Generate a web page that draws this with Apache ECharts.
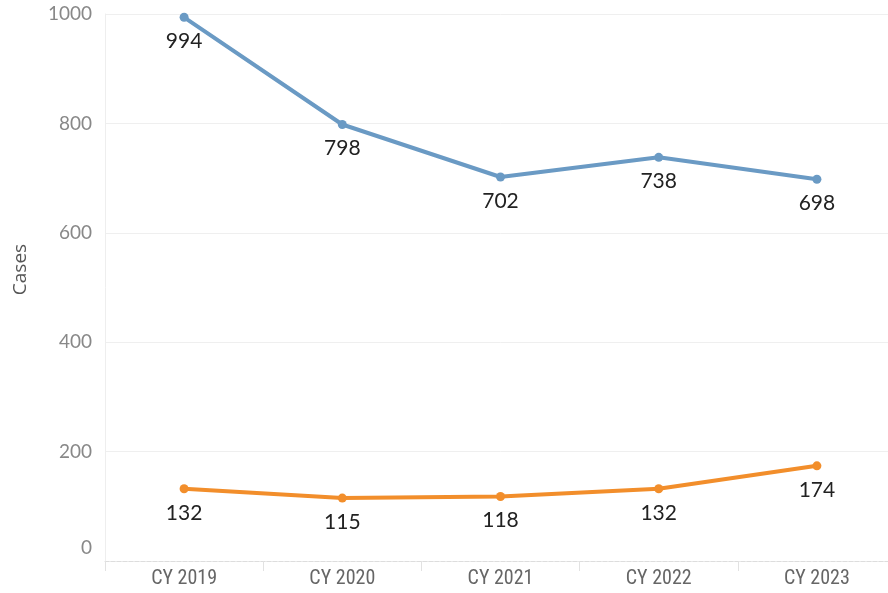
<!DOCTYPE html>
<html>
<head>
<meta charset="utf-8">
<script src="https://cdn.jsdelivr.net/npm/echarts@6/dist/echarts.min.js"></script>
<style>html,body{margin:0;padding:0;background:#fff;overflow:hidden;}#c{width:896px;height:593px;}</style>
</head>
<body>
<div id="c"></div>
<script>
const categories = ['CY 2019', 'CY 2020', 'CY 2021', 'CY 2022', 'CY 2023'];
const seriesA = [994, 798, 702, 738, 698];
const seriesB = [132, 115, 118, 132, 174];
const yTicks = { min: 0, max: 1000, interval: 200 };

const chart = echarts.init(document.getElementById('c'));
const labelFont = 'Lato, "Noto Sans", sans-serif';
function mkSeries(name, data, color) {
  return {
    name: name, type: 'line', data: data,
    symbol: 'circle', symbolSize: 9,
    lineStyle: { width: 4, color: color },
    itemStyle: { color: color },
    label: { show: true, position: 'bottom', distance: 9, color: '#222', fontSize: 21, fontFamily: labelFont },
    emphasis: { disabled: true },
    animation: false
  };
}
chart.setOption({
  animation: false,
  grid: { left: 105, top: 14, right: 0, bottom: 32, containLabel: false },
  xAxis: {
    type: 'category', data: categories, boundaryGap: true,
    axisLine: { show: true, lineStyle: { color: '#dddddd', type: 'dashed', width: 1 } },
    axisTick: { show: true, length: 10, lineStyle: { color: '#e2e2e2' } },
    axisLabel: { color: '#666', fontSize: 20, fontFamily: '"Liberation Sans Narrow", "Roboto Condensed", Roboto, sans-serif', margin: 8 },
    splitLine: { show: false }
  },
  yAxis: {
    type: 'value', min: yTicks.min, max: yTicks.max, interval: yTicks.interval,
    name: 'Cases', nameLocation: 'middle', nameGap: 75, nameRotate: 90,
    nameTextStyle: { color: '#555', fontSize: 19, fontFamily: '"Open Sans", "Noto Sans", sans-serif', padding: [0, 0, 0, 36] },
    axisLine: { show: true, lineStyle: { color: '#eeeeee' } },
    axisTick: { show: false },
    axisLabel: {
      color: '#888', fontSize: 19, fontFamily: labelFont, margin: 13,
      formatter: function (v) { return v === 0 ? '{z|0}' : String(v); },
      rich: { z: { color: '#888', fontSize: 19, fontFamily: labelFont, padding: [0, 0, 26, 0] } }
    },
    splitLine: { show: true, lineStyle: { color: '#efefef', width: 1 } }
  },
  series: [
    mkSeries('A', seriesA, '#6a9ac4'),
    mkSeries('B', seriesB, '#f28e2b')
  ]
});
</script>
</body>
</html>
